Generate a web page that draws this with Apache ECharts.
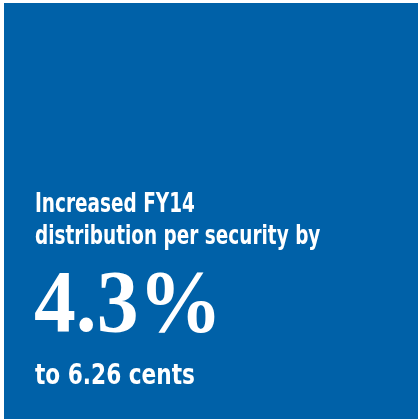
<!DOCTYPE html>
<html><head><meta charset="utf-8">
<script src="https://cdn.jsdelivr.net/npm/echarts@6/dist/echarts.min.js"></script>
<style>html,body{margin:0;padding:0;background:#fff}#c{width:419px;height:419px}</style>
</head><body><div id="c"></div>
<script>
var headlineLines = ['Increased FY14', 'distribution per security by'];
var bigValue = '4.3%';
var subLine = 'to 6.26 cents';

var chart = echarts.init(document.getElementById('c'), null, {renderer: 'canvas'});
var condensed = '"Liberation Sans Narrow", "DejaVu Sans Condensed", sans-serif';
function txt(t, x, y, font, sx) {
  return {type: 'text', x: x, y: y, scaleX: sx, scaleY: 1,
    style: {text: t, x: 0, y: 0, font: font, fill: '#ffffff', textVerticalAlign: 'top', textAlign: 'left'}};
}
chart.setOption({
  animation: false,
  graphic: [
    {type: 'rect', shape: {x: 4, y: 3, width: 414, height: 416}, style: {fill: '#0061a8'}},
    txt(headlineLines[0], 35, 191, 'bold 27px ' + condensed, 0.76),
    txt(headlineLines[1], 35, 223, 'bold 27px ' + condensed, 0.76),
    txt(bigValue, 34, 264, 'bold 88px "Liberation Serif", "DejaVu Serif", serif', 0.95),
    txt(subLine, 35, 362, 'bold 29px ' + condensed, 0.83)
  ]
});
</script></body></html>
